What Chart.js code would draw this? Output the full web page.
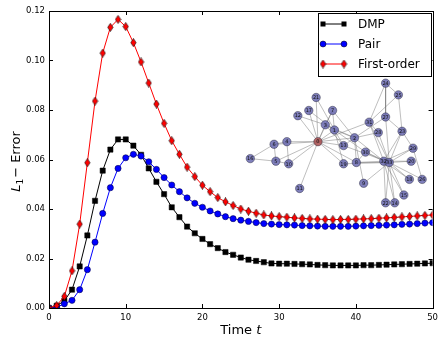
<!DOCTYPE html>
<html>
<head>
<meta charset="utf-8">
<script src="https://cdn.jsdelivr.net/npm/chart.js@4/dist/chart.umd.min.js"></script>
<style>
  html, body { margin: 0; padding: 0; background: #fff; }
</style>
</head>
<body>
<canvas id="errChart" width="443" height="340"></canvas>
<script>
// time steps
var times = [0, 1, 2, 3, 4, 5, 6, 7, 8, 9, 10, 11, 12, 13, 14, 15, 16, 17, 18, 19, 20,
             21, 22, 23, 24, 25, 26, 27, 28, 29, 30, 31, 32, 33, 34, 35, 36, 37, 38, 39, 40,
             41, 42, 43, 44, 45, 46, 47, 48, 49, 50];

// L1 error
var dmp = [0.0000, 0.0009, 0.0029, 0.0074, 0.0168, 0.0293, 0.0433, 0.0555, 0.0640, 0.0681, 0.0681,
           0.0656, 0.0619, 0.0564, 0.0510, 0.0460, 0.0407, 0.0367, 0.0329, 0.0302, 0.0279,
           0.0258, 0.0242, 0.0226, 0.0215, 0.0204, 0.0195, 0.0190, 0.0185, 0.0180, 0.0179,
           0.0179, 0.0178, 0.0177, 0.0176, 0.0174, 0.0173, 0.0172, 0.0172, 0.0172, 0.0172,
           0.0173, 0.0173, 0.0174, 0.0175, 0.0176, 0.0177, 0.0178, 0.0179, 0.0180, 0.0181];
var pair = [0.0000, 0.0003, 0.0017, 0.0031, 0.0074, 0.0155, 0.0266, 0.0382, 0.0486, 0.0564, 0.0607,
            0.0621, 0.0614, 0.0591, 0.0560, 0.0527, 0.0497, 0.0470, 0.0445, 0.0423, 0.0407,
            0.0392, 0.0380, 0.0369, 0.0361, 0.0355, 0.0350, 0.0345, 0.0341, 0.0339, 0.0337,
            0.0336, 0.0335, 0.0333, 0.0332, 0.0331, 0.0330, 0.0330, 0.0330, 0.0330, 0.0331,
            0.0332, 0.0333, 0.0334, 0.0335, 0.0336, 0.0338, 0.0339, 0.0341, 0.0343, 0.0345];
var firstOrder = [0.0000, 0.0010, 0.0047, 0.0150, 0.0339, 0.0587, 0.0836, 0.1030, 0.1134, 0.1166, 0.1137,
                  0.1072, 0.0994, 0.0909, 0.0824, 0.0746, 0.0676, 0.0621, 0.0569, 0.0531, 0.0496,
                  0.0470, 0.0446, 0.0429, 0.0414, 0.0400, 0.0391, 0.0383, 0.0376, 0.0372, 0.0369,
                  0.0367, 0.0364, 0.0362, 0.0360, 0.0359, 0.0358, 0.0357, 0.0358, 0.0358, 0.0359,
                  0.0360, 0.0361, 0.0363, 0.0364, 0.0366, 0.0368, 0.0370, 0.0372, 0.0374, 0.0376];

var seriesNames = ['DMP', 'Pair', 'First-order'];
var xTicks = [0, 10, 20, 30, 40, 50];
var yTicks = [0.00, 0.02, 0.04, 0.06, 0.08, 0.10, 0.12];

// inset network (karate club), layout positions 0..1
var nodeX = [0.40, 0.49, 0.60, 0.44, 0.23, 0.17, 0.16, 0.48, 0.61, 0.65, 0.24, 0.30, 0.29, 0.54, 0.82, 0.87, 0.03,
             0.35, 0.90, 0.54, 0.91, 0.39, 0.77, 0.86, 0.77, 0.84, 0.97, 0.77, 0.73, 0.92, 0.66, 0.68, 0.76, 0.79];
var nodeY = [0.51, 0.60, 0.54, 0.64, 0.51, 0.36, 0.49, 0.75, 0.35, 0.19, 0.34, 0.15, 0.71, 0.48, 0.04, 0.10, 0.38,
             0.75, 0.22, 0.34, 0.36, 0.85, 0.04, 0.59, 0.96, 0.87, 0.22, 0.70, 0.58, 0.46, 0.43, 0.66, 0.36, 0.35];
var edges = [[0,1],[0,2],[0,3],[0,4],[0,5],[0,6],[0,7],[0,8],[0,10],[0,11],[0,12],[0,13],[0,17],[0,19],[0,21],[0,31],
             [1,2],[1,3],[1,7],[1,13],[1,17],[1,19],[1,21],[1,30],
             [2,3],[2,7],[2,8],[2,9],[2,13],[2,27],[2,28],[2,32],
             [3,7],[3,12],[3,13],[4,6],[4,10],[5,6],[5,10],[5,16],[6,16],
             [8,30],[8,32],[8,33],[9,33],[13,33],[14,32],[14,33],[15,32],[15,33],
             [18,32],[18,33],[19,33],[20,32],[20,33],[22,32],[22,33],
             [23,25],[23,27],[23,29],[23,32],[23,33],[24,25],[24,27],[24,31],[25,31],
             [26,29],[26,33],[27,33],[28,31],[28,33],[29,32],[29,33],[30,32],[30,33],
             [31,32],[31,33],[32,33]];
var seedNode = 0;

function thinDiamond(fill) {
  var c = document.createElement('canvas');
  c.width = 7; c.height = 9;
  var g = c.getContext('2d');
  g.beginPath();
  g.moveTo(3.5, 0.4); g.lineTo(6.2, 4.5); g.lineTo(3.5, 8.6); g.lineTo(0.8, 4.5);
  g.closePath();
  g.fillStyle = fill; g.fill();
  g.lineWidth = 0.6; g.strokeStyle = '#000'; g.stroke();
  return c;
}
var diamondImg = thinDiamond('#ff0000');

function pts(ys) {
  var out = [];
  for (var i = 0; i < times.length; i++) out.push({x: times[i], y: ys[i]});
  return out;
}

var edgePts = [];
for (var e = 0; e < edges.length; e++) {
  edgePts.push({x: nodeX[edges[e][0]], y: nodeY[edges[e][0]]});
  edgePts.push({x: nodeX[edges[e][1]], y: nodeY[edges[e][1]]});
  edgePts.push({x: null, y: null});
}
var nodePts = [];
var nodeFill = [];
for (var n = 0; n < nodeX.length; n++) {
  nodePts.push({x: nodeX[n], y: nodeY[n]});
  nodeFill.push(n == seedNode ? 'rgba(170,80,80,0.85)' : 'rgba(105,105,175,0.85)');
}

var FONT = '"DejaVu Sans", sans-serif';

var decorPlugin = {
  id: 'decor',
  afterDatasetsDraw: function(chart) {
    var ctx = chart.ctx, a = chart.chartArea;
    var xs = chart.scales.x, ys = chart.scales.y;
    var nx = chart.scales.nx, ny = chart.scales.ny;
    ctx.save();
    // node labels
    ctx.fillStyle = '#111';
    ctx.font = '5px ' + FONT;
    ctx.textAlign = 'center';
    ctx.textBaseline = 'middle';
    for (var i = 0; i < nodeX.length; i++) {
      ctx.fillText(String(i), nx.getPixelForValue(nodeX[i]), ny.getPixelForValue(nodeY[i]) + 0.5);
    }
    // frame
    ctx.strokeStyle = '#000';
    ctx.lineWidth = 1;
    ctx.strokeRect(Math.round(a.left) + 0.5, Math.round(a.top) + 0.5,
                   Math.round(a.right - a.left), Math.round(a.bottom - a.top));
    // inward ticks on all four sides
    ctx.beginPath();
    xTicks.forEach(function(v) {
      var px = Math.round(xs.getPixelForValue(v)) + 0.5;
      ctx.moveTo(px, a.bottom); ctx.lineTo(px, a.bottom - 4);
      ctx.moveTo(px, a.top); ctx.lineTo(px, a.top + 4);
    });
    yTicks.forEach(function(v) {
      var py = Math.round(ys.getPixelForValue(v)) + 0.5;
      ctx.moveTo(a.left, py); ctx.lineTo(a.left + 4, py);
      ctx.moveTo(a.right, py); ctx.lineTo(a.right - 4, py);
    });
    ctx.stroke();

    // legend
    var bx = 318.5, by = 13.5, bw = 113, bh = 63;
    ctx.fillStyle = '#fff';
    ctx.fillRect(bx, by, bw, bh);
    ctx.strokeRect(bx, by, bw, bh);
    var rows = [24, 44, 64];
    ctx.font = '12px ' + FONT;
    ctx.textAlign = 'left';
    ctx.textBaseline = 'middle';
    for (var r = 0; r < 3; r++) {
      var ds = chart.data.datasets[r];
      var y = rows[r];
      ctx.strokeStyle = ds.borderColor;
      ctx.lineWidth = 1;
      ctx.beginPath(); ctx.moveTo(323, y); ctx.lineTo(344, y); ctx.stroke();
      [323, 344].forEach(function(px) {
        if (ds.pointStyle === 'rect') {
          ctx.fillStyle = '#000';
          ctx.fillRect(px - 2.5, y - 2.5, 5, 5);
        } else if (ds.pointStyle === 'circle') {
          ctx.beginPath(); ctx.arc(px, y, 3, 0, Math.PI * 2);
          ctx.fillStyle = ds.pointBackgroundColor; ctx.fill();
          ctx.lineWidth = 0.5; ctx.strokeStyle = '#000'; ctx.stroke();
        } else {
          ctx.drawImage(diamondImg, px - 3.5, y - 4.5);
        }
      });
      ctx.fillStyle = '#000';
      ctx.fillText(ds.label, 358, y + 0.5);
    }

    // axis titles
    ctx.fillStyle = '#000';
    ctx.textBaseline = 'alphabetic';
    var xt1 = 'Time ', xt2 = 't';
    ctx.font = '13px ' + FONT;
    var w1 = ctx.measureText(xt1).width;
    ctx.font = 'italic 13px ' + FONT;
    var w2 = ctx.measureText(xt2).width;
    var cx = (a.left + a.right) / 2 - (w1 + w2) / 2;
    ctx.font = '13px ' + FONT;
    ctx.fillText(xt1, cx, 334);
    ctx.font = 'italic 13px ' + FONT;
    ctx.fillText(xt2, cx + w1, 334);

    ctx.translate(20, (a.top + a.bottom) / 2 + 2);
    ctx.rotate(-Math.PI / 2);
    ctx.font = 'italic 13px ' + FONT;
    var lw = ctx.measureText('L').width;
    ctx.font = '9px ' + FONT;
    var sw = ctx.measureText('1').width;
    ctx.font = '13px ' + FONT;
    var rest = '\u2212 Error';
    var rw = ctx.measureText(rest).width;
    var sx = -(lw + sw + 1 + rw) / 2;
    ctx.font = 'italic 13px ' + FONT;
    ctx.fillText('L', sx, 0);
    ctx.font = '9px ' + FONT;
    ctx.fillText('1', sx + lw, 3);
    ctx.font = '13px ' + FONT;
    ctx.fillText(rest, sx + lw + sw + 1, 0);
    ctx.restore();
  }
};

var ctx = document.getElementById('errChart');
new Chart(ctx, {
  type: 'line',
  data: {
    datasets: [
      {
        label: seriesNames[0], data: pts(dmp), order: 3,
        borderColor: '#000000', borderWidth: 1, backgroundColor: '#000000',
        pointStyle: 'rect', pointRadius: 3.7, pointBackgroundColor: '#000000',
        pointBorderColor: '#000000', pointBorderWidth: 0.5, clip: 0
      },
      {
        label: seriesNames[1], data: pts(pair), order: 2,
        borderColor: '#0000ff', borderWidth: 1, backgroundColor: '#0000ff',
        pointStyle: 'circle', pointRadius: 3.1, pointBackgroundColor: '#0000ff',
        pointBorderColor: '#000033', pointBorderWidth: 0.5, clip: 0
      },
      {
        label: seriesNames[2], data: pts(firstOrder), order: 1,
        borderColor: '#ff0000', borderWidth: 1, backgroundColor: '#ff0000',
        pointStyle: diamondImg, pointRadius: 4.5, clip: 0
      },
      {
        label: 'edges', type: 'scatter', data: edgePts, xAxisID: 'nx', yAxisID: 'ny',
        showLine: true, spanGaps: false, borderColor: 'rgba(110,110,110,0.75)', borderWidth: 0.6,
        pointRadius: 0, order: 0
      },
      {
        label: 'nodes', type: 'scatter', data: nodePts, xAxisID: 'nx', yAxisID: 'ny',
        pointRadius: 4.2, pointBackgroundColor: nodeFill, pointBorderColor: 'rgba(40,40,60,0.9)',
        pointBorderWidth: 0.5, order: -1
      }
    ]
  },
  options: {
    responsive: false,
    animation: false,
    devicePixelRatio: 1,
    layout: { padding: { left: 0, top: 11, right: 10, bottom: 0 } },
    plugins: { legend: { display: false }, tooltip: { enabled: false } },
    elements: { line: { tension: 0 } },
    scales: {
      x: {
        type: 'linear', min: 0, max: 50,
        afterBuildTicks: function(s) { s.ticks = xTicks.map(function(v) { return {value: v}; }); },
        afterFit: function(s) { s.height = 32; },
        grid: { display: false, drawTicks: false },
        border: { display: false },
        ticks: { padding: 5, color: '#000', font: { family: 'DejaVu Sans', size: 8.5 }, maxRotation: 0 }
      },
      y: {
        min: 0, max: 0.12,
        afterBuildTicks: function(s) { s.ticks = yTicks.map(function(v) { return {value: v}; }); },
        afterFit: function(s) { s.width = 49; },
        grid: { display: false, drawTicks: false },
        border: { display: false },
        ticks: {
          padding: 4, color: '#000', font: { family: 'DejaVu Sans', size: 8.5 },
          callback: function(v) { return Number(v).toFixed(2); }
        }
      },
      nx: { type: 'linear', display: false, min: -1.071, max: 1.027 },
      ny: { type: 'linear', display: false, min: -0.769, max: 1.515 }
    }
  },
  plugins: [decorPlugin]
});
</script>
</body>
</html>
